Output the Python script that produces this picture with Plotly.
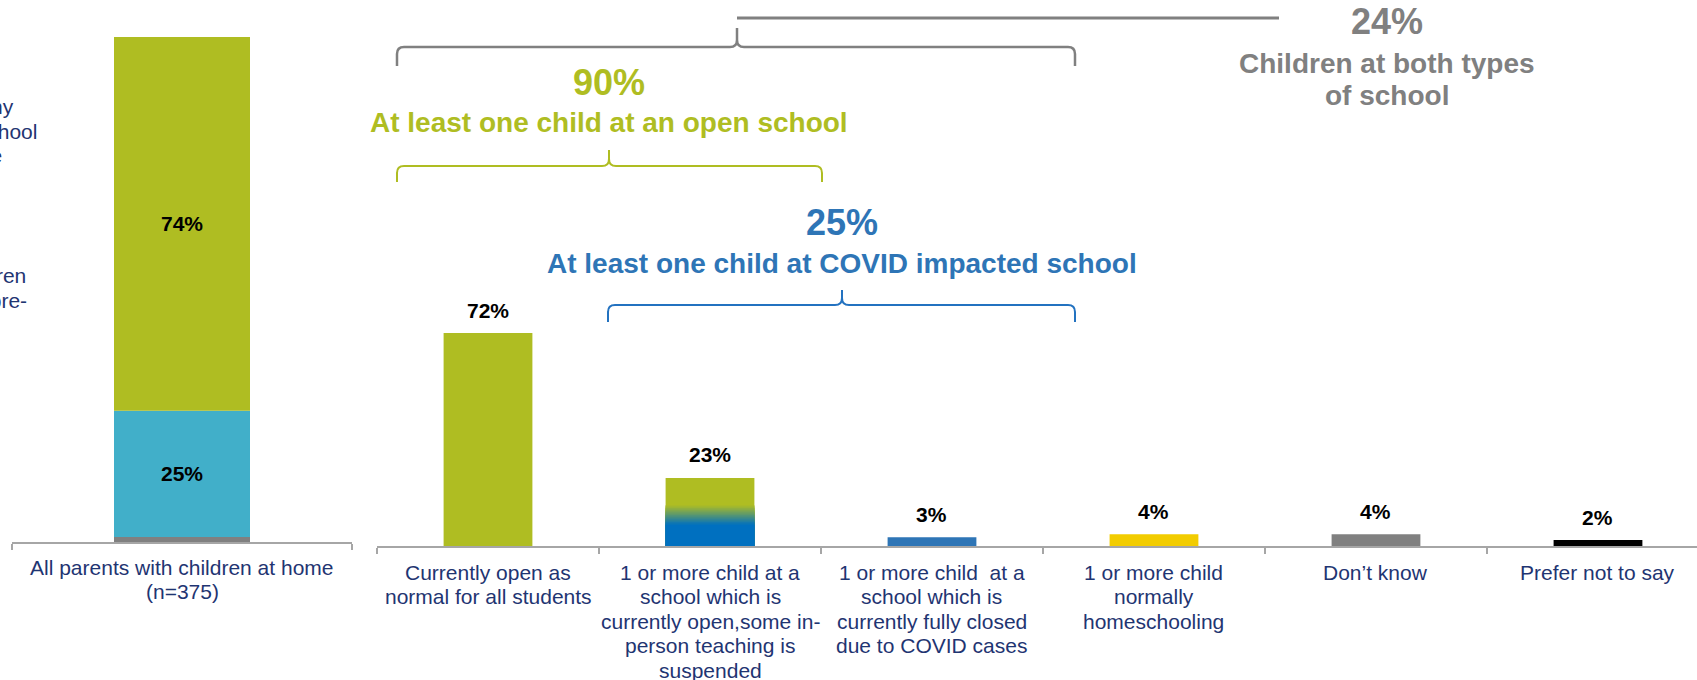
import plotly.graph_objects as go

W, H = 1697, 680
FONT = "Liberation Sans, Arial, sans-serif"
NAVY = "#1F3572"
AXIS_GREY = "#A6A6A6"

# ---------------- data ----------------
left_category = ["All parents with children at home<br>(n=375)"]
left_segments = ["Other", "Children below school age", "Any child at school"]
left_values = [1, 25, 74]
left_labels = ["", "25%", "74%"]
left_colors = ["#808080", "#41AFC9", "#AFBD22"]

main_categories = [
    "Currently open as<br>normal for all students",
    "1 or more child at a<br>school which is<br>currently open,some in-<br>person teaching is<br>suspended",
    "1 or more child  at a<br>school which is<br>currently fully closed<br>due to COVID cases",
    "1 or more child<br>normally<br>homeschooling",
    "Don\u2019t know",
    "Prefer not to say",
]
main_values = [72, 23, 3, 4, 4, 2]
main_labels = ["72%", "23%", "3%", "4%", "4%", "2%"]
main_colors = ["#AFBD22", "#AFBD22", "#2E75B6", "#F2CC00", "#808080", "#000000"]
gradient_index = 1
gradient_colors = ["#AFBD22", "#0070C0"]

summary_values = ["90%", "25%", "24%"]
summary_texts = [
    "At least one child at an open school",
    "At least one child at COVID impacted school",
    "Children at both types<br>of school",
]
summary_colors = ["#AFBD22", "#2E75B6", "#808080"]

legend_lines_1 = ["Parents with any", "children at school", "or college"]
legend_lines_2 = ["Only younger children", "at nursery or pre-"]

# ---------------- helpers ----------------
def px(x):
    return x / W

def py(y):
    return 1 - y / H

def hex_rgb(h):
    h = h.lstrip("#")
    return tuple(int(h[i:i + 2], 16) for i in (0, 2, 4))

def mix(c1, c2, t):
    a, b = hex_rgb(c1), hex_rgb(c2)
    return "rgb(%d,%d,%d)" % tuple(round(a[i] + (b[i] - a[i]) * t) for i in range(3))

fig = go.Figure()

# ---------------- left stacked bar ----------------
base = 0
bases = []
for v in left_values:
    bases.append(base)
    base += v
for name, v, b, c in zip(left_segments, left_values, bases, left_colors):
    fig.add_trace(go.Bar(
        x=left_category, y=[v], base=[b], name=name, marker=dict(color=c, line=dict(width=0)),
        width=0.4, xaxis="x", yaxis="y", showlegend=False, hoverinfo="skip",
    ))

# ---------------- main bars ----------------
fig.add_trace(go.Bar(
    x=main_categories, y=main_values, marker=dict(color=main_colors, line=dict(width=0)),
    width=0.4, xaxis="x2", yaxis="y2", showlegend=False, hoverinfo="skip",
))

# gradient overlay for the mixed bar (green top fading into blue bottom)
g_top, g_bottom, n_bands = 0.60, 0.31, 14
gv = main_values[gradient_index]
gx = [main_categories[gradient_index]]
for k in range(n_bands):
    frac = g_top - (g_top - g_bottom) * k / n_bands
    col = mix(gradient_colors[0], gradient_colors[1], (k + 0.5) / n_bands)
    fig.add_trace(go.Bar(
        x=gx, y=[gv * frac], marker=dict(color=col, line=dict(width=0)), width=0.4,
        xaxis="x2", yaxis="y2", showlegend=False, hoverinfo="skip",
    ))
fig.add_trace(go.Bar(
    x=gx, y=[gv * g_bottom], marker=dict(color=gradient_colors[1], line=dict(width=0)), width=0.4,
    xaxis="x2", yaxis="y2", showlegend=False, hoverinfo="skip",
))

annotations = []

# left bar labels
for v, b, lab in zip(left_values, bases, left_labels):
    if lab:
        annotations.append(dict(
            x=left_category[0], y=b + v / 2, xref="x", yref="y", text=lab, showarrow=False,
            font=dict(family=FONT, size=21, color="black", weight="bold"),
            xanchor="center", yanchor="middle",
        ))

# left category label (custom line spacing)
for j, line in enumerate(left_category[0].split("<br>")):
    annotations.append(dict(
        x=left_category[0], y=0, xref="x", yref="y", text=line, showarrow=False,
        font=dict(family=FONT, size=21, color=NAVY), xanchor="center", yanchor="middle",
        yshift=-(25 + 24 * j),
    ))

# main data labels
for c, v, lab in zip(main_categories, main_values, main_labels):
    annotations.append(dict(
        x=c, y=v, xref="x2", yref="y2", text=lab, showarrow=False,
        font=dict(family=FONT, size=21, color="black", weight="bold"),
        xanchor="center", yanchor="middle", yshift=23,
    ))

# main category labels
for c in main_categories:
    for j, line in enumerate(c.split("<br>")):
        annotations.append(dict(
            x=c, y=0, xref="x2", yref="y2", text=line, showarrow=False,
            font=dict(family=FONT, size=21, color=NAVY), xanchor="center", yanchor="middle",
            yshift=-(26 + 24.5 * j),
        ))

# summary headlines
summary_pos = [(609, 82, 122), (842, 223, 263), (1387, 22, 63)]
for (cx, yv, yt), val, txt, col in zip(summary_pos, summary_values, summary_texts, summary_colors):
    annotations.append(dict(
        x=px(cx), y=py(yv), xref="paper", yref="paper", text=val, showarrow=False,
        font=dict(family=FONT, size=36, color=col, weight="bold"), xanchor="center", yanchor="middle",
    ))
    for j, line in enumerate(txt.split("<br>")):
        annotations.append(dict(
            x=px(cx), y=py(yt + 33 * j), xref="paper", yref="paper", text=line, showarrow=False,
            font=dict(family=FONT, size=28, color=col, weight="bold"), xanchor="center", yanchor="middle",
        ))

# legend text partially outside the picture (cut at the left edge, as in the reference)
for line, xr, yc in zip(legend_lines_1, [16, 39, 4], [106, 131, 156]):
    annotations.append(dict(
        x=px(xr), y=py(yc), xref="paper", yref="paper", text=line, showarrow=False,
        font=dict(family=FONT, size=21, color=NAVY), xanchor="right", yanchor="middle",
    ))
for line, xr, yc in zip(legend_lines_2, [28, 29], [275, 300]):
    annotations.append(dict(
        x=px(xr), y=py(yc), xref="paper", yref="paper", text=line, showarrow=False,
        font=dict(family=FONT, size=21, color=NAVY), xanchor="right", yanchor="middle",
    ))

# ---------------- braces ----------------
def P(x, y):
    return "%.5f,%.5f" % (px(x), py(y))

def brace(x0, x1, xc, yh, ye, yt, r=7):
    return ("M " + P(x0, ye) + " L " + P(x0, yh + r) + " Q " + P(x0, yh) + " " + P(x0 + r, yh) +
            " L " + P(xc - r, yh) + " Q " + P(xc, yh) + " " + P(xc, yh - r) + " L " + P(xc, yt) +
            " M " + P(xc, yh - r) + " Q " + P(xc, yh) + " " + P(xc + r, yh) +
            " L " + P(x1 - r, yh) + " Q " + P(x1, yh) + " " + P(x1, yh + r) + " L " + P(x1, ye))

shapes = [
    dict(type="path", xref="paper", yref="paper", path=brace(397, 1075, 737, 47, 66, 28),
         line=dict(color="#808080", width=2.5)),
    dict(type="line", xref="paper", yref="paper", x0=px(737), x1=px(1279), y0=py(18), y1=py(18),
         line=dict(color="#808080", width=3)),
    dict(type="path", xref="paper", yref="paper", path=brace(397, 822, 609, 166, 182, 150),
         line=dict(color="#AFBD22", width=2)),
    dict(type="path", xref="paper", yref="paper", path=brace(608, 1075, 842, 305, 322, 290),
         line=dict(color="#2372C0", width=2)),
]

axis_common = dict(
    showline=True, linecolor=AXIS_GREY, linewidth=1.5, ticks="outside", tickson="boundaries",
    ticklen=6, tickwidth=1.5, tickcolor=AXIS_GREY, showticklabels=False, showgrid=False,
    zeroline=False, fixedrange=True,
)

fig.update_layout(
    width=W, height=H, margin=dict(l=0, r=0, t=0, b=0),
    paper_bgcolor="white", plot_bgcolor="white", barmode="overlay", showlegend=False,
    xaxis=dict(domain=[px(12), px(352)], anchor="y", range=[-0.5, 0.5], type="category", **axis_common),
    yaxis=dict(domain=[py(542), py(37)], anchor="x", range=[0, 100], visible=False, fixedrange=True),
    xaxis2=dict(domain=[px(377), 1], anchor="y2", range=[-0.5, 5.446], type="category", **axis_common),
    yaxis2=dict(domain=[py(546), py(546 - 2.958 * 100)], anchor="x2", range=[0, 100], visible=False,
                fixedrange=True),
    annotations=annotations, shapes=shapes,
    font=dict(family=FONT),
)

fig.write_html(
    "out.html",
    config={"displayModeBar": False},
    post_script="document.body.style.margin='0';document.body.style.overflow='hidden';",
)
